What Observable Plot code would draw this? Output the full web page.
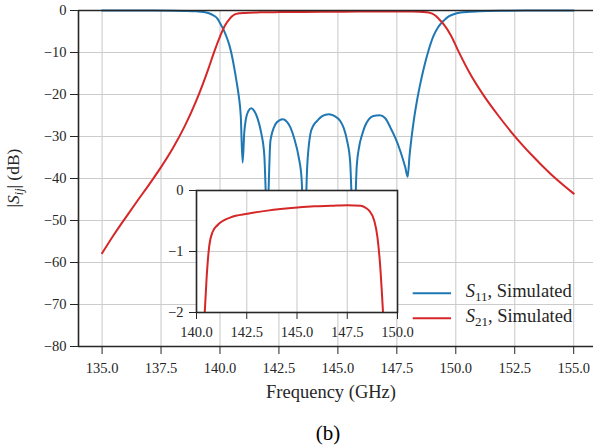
<!DOCTYPE html>
<html>
<head>
<meta charset="utf-8">
<script src="https://cdn.jsdelivr.net/npm/d3@7"></script>
<script src="https://cdn.jsdelivr.net/npm/@observablehq/plot@0.6"></script>
<style>
  html, body { margin: 0; padding: 0; background: #ffffff; }
  #wrap { position: relative; width: 593px; height: 445px; overflow: hidden; font-family: "Liberation Serif", serif; color: #262626; }
  #wrap svg { position: absolute; overflow: visible; }
  #wrap svg, #wrap svg text, #wrap svg tspan { font-family: "Liberation Serif", serif !important; }
</style>
</head>
<body>
<div id="wrap"></div>
<script>
// ---------- data ----------
const s11Freq = [135, 136, 137, 138, 138.5, 139, 139.3, 139.5, 139.7, 139.9, 140.0, 140.1, 140.2, 140.3, 140.4, 140.5, 140.6, 140.7, 140.8, 140.88, 140.96, 141.03, 141.1, 141.2, 141.32, 141.45, 141.6, 141.75, 141.88, 142.0, 142.14, 142.35, 142.5, 142.68, 142.85, 142.99, 143.15, 143.34, 143.46, 143.58, 143.7, 143.83, 143.95, 144.12, 144.35, 144.61, 144.85, 145.1, 145.25, 145.39, 145.52, 145.67, 145.8, 145.9, 146.03, 146.15, 146.31, 146.5, 146.77, 147.0, 147.23, 147.45, 147.65, 147.86, 147.96, 148.04, 148.14, 148.25, 148.36, 148.5, 148.64, 148.85, 149.06, 149.25, 149.49, 149.7, 149.91, 150.2, 150.6, 151, 152, 153, 154, 155];
const s11Db = [0, -0.01, -0.02, -0.05, -0.1, -0.2, -0.35, -0.6, -1.1, -2.0, -3.0, -4.0, -5.2, -6.6, -8.3, -10.6, -13.5, -16.8, -20.5, -25, -36.2, -29, -25.8, -24, -23.3, -23.9, -25.8, -29.2, -34.5, -50, -31, -27.1, -26.2, -25.9, -26.6, -27.9, -30.5, -35, -40, -55, -37, -29.5, -27.5, -26.3, -25.1, -24.7, -25.1, -26.3, -28, -31, -36, -55, -37, -32.5, -29.5, -27.5, -25.9, -25.1, -24.95, -25.6, -27.9, -30.5, -33.5, -37.4, -39.6, -34.5, -29.5, -25, -21.3, -17.3, -13.8, -9.4, -6.0, -4.0, -2.4, -1.4, -0.9, -0.5, -0.3, -0.15, -0.05, -0.02, -0.01, 0];

const s21Freq = [135, 135.5, 136, 136.5, 137, 137.5, 138, 138.5, 139, 139.5, 139.75, 140.0, 140.2, 140.41, 140.5, 140.63, 140.8, 141.04, 141.7, 142.54, 143.53, 145.02, 145.85, 146.7, 147.51, 148.17, 148.45, 148.59, 148.84, 149.0, 149.13, 149.28, 149.49, 149.8, 150.12, 150.6, 151.18, 151.8, 152.45, 153.2, 154.0, 155];
const s21Db = [-57.8, -53.4, -49.3, -45.3, -41.4, -37.3, -32.8, -27.6, -21.4, -14.0, -9.9, -6.2, -3.7, -2.0, -1.45, -0.92, -0.68, -0.57, -0.44, -0.38, -0.33, -0.28, -0.26, -0.25, -0.24, -0.25, -0.29, -0.33, -0.49, -0.76, -1.2, -2.0, -3.3, -6.0, -9.8, -15.0, -20.2, -25.0, -29.6, -34.3, -38.8, -43.6];

const seriesNames = ["11", "21"];           // subscripts of S_ij
const seriesSuffix = ", Simulated";
const xTicks = [135, 137.5, 140, 142.5, 145, 147.5, 150, 152.5, 155];
const yTicks = [-80, -70, -60, -50, -40, -30, -20, -10, 0];
const insetXTicks = [140, 142.5, 145, 147.5, 150];
const insetYTicks = [-2, -1, 0];
const xLabel = "Frequency (GHz)";
const captionText = "(b)";

// ---------- styles ----------
const colors = ["#1f77b4", "#d62728"];
const gridColor = "#cccccc";
const spineColor = "#262626";
const fontFamily = "Liberation Serif";

const s11 = s11Freq.map((f, i) => ({f, db: s11Db[i]}));
const s21 = s21Freq.map((f, i) => ({f, db: s21Db[i]}));
const fmtX = d => d.toFixed(1);
const fmtY = d => d === 0 ? "0" : "\u2212" + Math.abs(d);

const wrap = document.getElementById("wrap");

// ---------- main chart ----------
const main = Plot.plot({
  width: 593, height: 445,
  marginLeft: 78, marginRight: 0, marginTop: 10, marginBottom: 99,
  style: {fontFamily, fontSize: "14.5px", color: spineColor, background: "transparent", overflow: "visible"},
  x: {domain: [134, 155.84], ticks: xTicks, tickFormat: fmtX, tickSize: 8, tickPadding: 8, label: null},
  y: {domain: [-80, 0], ticks: yTicks, tickFormat: fmtY, tickSize: 8, tickPadding: 4, label: null},
  marks: [
    Plot.gridX(xTicks, {stroke: gridColor, strokeOpacity: 1, strokeWidth: 1.1}),
    Plot.gridY(yTicks, {stroke: gridColor, strokeOpacity: 1, strokeWidth: 1.1}),
    Plot.line(s11, {x: "f", y: "db", stroke: colors[0], strokeWidth: 2, curve: "monotone-x"}),
    Plot.line(s21, {x: "f", y: "db", stroke: colors[1], strokeWidth: 2, curve: "monotone-x"}),
    Plot.ruleX([134], {stroke: spineColor, strokeWidth: 1.6}),
    Plot.ruleY([-80], {stroke: spineColor, strokeWidth: 1.6}),
    Plot.ruleY([0], {stroke: spineColor, strokeWidth: 1.6})
  ]
});
main.style.left = "0px"; main.style.top = "0px";
wrap.appendChild(main);

// ---------- inset ----------
const inset = Plot.plot({
  width: 251, height: 157,
  marginLeft: 30, marginRight: 20, marginTop: 5, marginBottom: 30,
  style: {fontFamily, fontSize: "14.5px", color: spineColor, background: "transparent", overflow: "visible"},
  x: {domain: [140, 150], ticks: insetXTicks, tickFormat: fmtX, tickSize: 7, tickPadding: 7, label: null},
  y: {domain: [-2, 0], ticks: insetYTicks, tickFormat: fmtY, tickSize: 7, tickPadding: 6, label: null},
  marks: [
    Plot.frame({fill: "white", stroke: null}),
    Plot.gridX(insetXTicks, {stroke: gridColor, strokeOpacity: 1, strokeWidth: 1.1}),
    Plot.gridY(insetYTicks, {stroke: gridColor, strokeOpacity: 1, strokeWidth: 1.1}),
    Plot.line(s21, {x: "f", y: "db", stroke: colors[1], strokeWidth: 2, curve: "monotone-x", clip: true}),
    Plot.frame({stroke: spineColor, strokeWidth: 1.6})
  ]
});
inset.style.left = "165.7px"; inset.style.top = "185px";
wrap.appendChild(inset);

// ---------- text overlay: labels, legend, caption ----------
const ov = d3.select(wrap).append("svg")
  .attr("width", 593).attr("height", 445)
  .style("left", "0px").style("top", "0px")
  .attr("font-family", fontFamily).attr("fill", spineColor);

// y label |S_ij| (dB)
const yl = ov.append("text")
  .attr("transform", "translate(19,178) rotate(-90)")
  .attr("text-anchor", "middle")
  .attr("font-size", 17.5);
yl.append("tspan").text("|");
yl.append("tspan").attr("font-style", "italic").text("S");
yl.append("tspan").attr("font-style", "italic").attr("font-size", 12).attr("dy", 4).text("ij");
yl.append("tspan").attr("dy", -4).text("| (dB)");

// x label
ov.append("text").attr("x", 331).attr("y", 398).attr("text-anchor", "middle")
  .attr("font-size", 18.5).text(xLabel);

// caption
ov.append("text").attr("x", 328).attr("y", 440).attr("text-anchor", "middle")
  .attr("font-size", 21).attr("fill", "#000").text(captionText);

// legend
const legendRows = [293.3, 318.3];
seriesNames.forEach((name, i) => {
  const y = legendRows[i];
  ov.append("line").attr("x1", 412.7).attr("x2", 451).attr("y1", y).attr("y2", y)
    .attr("stroke", colors[i]).attr("stroke-width", 2);
  const t = ov.append("text").attr("x", 465.7).attr("y", y + 4).attr("font-size", 18.5);
  t.append("tspan").attr("font-style", "italic").text("S");
  t.append("tspan").attr("font-size", 13).attr("dy", 4).text(name);
  t.append("tspan").attr("dy", -4).text(seriesSuffix);
});
</script>
</body>
</html>
